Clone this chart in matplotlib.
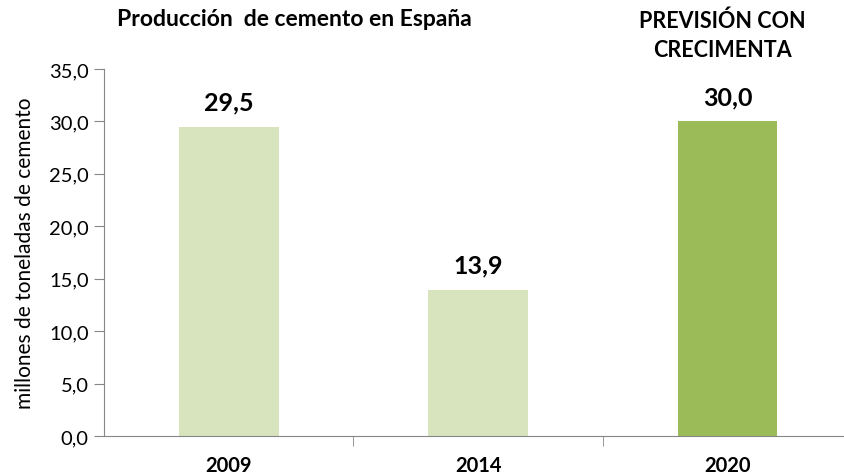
import matplotlib.pyplot as plt

years = ["2009", "2014", "2020"]
produccion = [29.5, 13.9, 30.0]
colores = ["#D7E4BD", "#D7E4BD", "#9BBB59"]
yticks = [0, 5, 10, 15, 20, 25, 30, 35]

plt.rcParams['font.family'] = ['Lato', 'DejaVu Sans']

fig = plt.figure(figsize=(8.45, 4.77), dpi=100)
ax = fig.add_axes([104 / 845, 40 / 477, 741 / 845, 367 / 477])

x = list(range(len(years)))
ax.bar(x, produccion, width=0.4, color=colores)

for xi, v in zip(x, produccion):
    ax.annotate(f"{v:.1f}".replace(".", ","), (xi, v), xytext=(0, 18),
                textcoords="offset points", ha="center", va="center",
                fontsize=18, fontweight="bold")

ax.set_xlim(-0.5, 2.471)
ax.set_ylim(0, 35)
ax.set_yticks(yticks)
ax.set_yticklabels([f"{t:.1f}".replace(".", ",") for t in yticks], fontsize=14.5)
ax.set_xticks(x)
ax.set_xticklabels(years, fontsize=14.5, fontweight="bold")
ax.set_xticks([0.5, 1.5], minor=True)
ax.tick_params(axis="x", which="major", length=0, pad=14)
ax.tick_params(axis="x", which="minor", length=7, color="#868686", direction="out")
ax.tick_params(axis="y", length=7, color="#868686", pad=4)

for s in ["top", "right"]:
    ax.spines[s].set_visible(False)
for s in ["left", "bottom"]:
    ax.spines[s].set_color("#868686")

ax.set_ylabel("millones de toneladas de cemento", fontsize=15, va="center")
ax.yaxis.set_label_coords(-79 / 741, 0.5)

fig.text(117 / 845, 1 - 20 / 477, "Producción  de cemento en España",
         fontsize=16.5, fontweight="bold", ha="left", va="center")
fig.text(722 / 845, 1 - 36 / 477, "PREVISIÓN CON\nCRECIMENTA",
         fontsize=15.5, fontweight="bold", ha="center", va="center",
         linespacing=1.45)

fig.savefig("out.png", dpi=100)
